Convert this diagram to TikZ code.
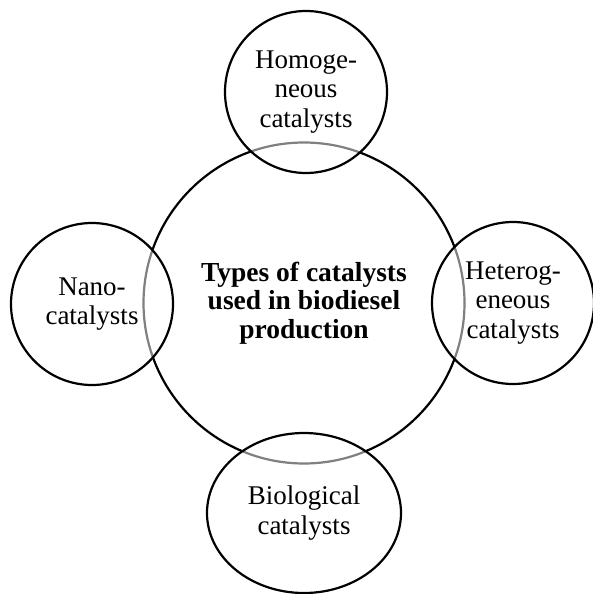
\documentclass[tikz,border=0pt]{standalone}
\usepackage{fontspec}
\setmainfont{Liberation Serif}
\usetikzlibrary{shapes.geometric}
\begin{document}
\begin{tikzpicture}[x=1pt,y=-1pt,
  hub/.style={circle,draw=black,line width=2.2pt,minimum size=321pt,inner sep=0pt},
  title/.style={align=center,font=\fontsize{27.5}{28.5}\selectfont\bfseries},
  satellite/.style={circle,draw=black,line width=2.2pt,fill=white,fill opacity=0.5,
    draw opacity=1,text opacity=1,minimum size=162pt,inner sep=0pt,
    align=center,font=\fontsize{27}{29.5}\selectfont},
  oval/.style={satellite,ellipse,minimum width=194pt,minimum height=160pt}]
  \useasboundingbox (0,0) rectangle (592,594);
  % central circle
  \node[hub] (hub) at (304,303) {};
  % surrounding catalyst groups, drawn over the central rim
  \node[satellite] (homo) at (306,92) {Homoge-\\neous\\catalysts};
  \node[satellite] (nano) at (92,304) {Nano-\\catalysts};
  \node[satellite] (hetero) at (513,303) {Heterog-\\eneous\\catalysts};
  \node[oval] (bio) at (304,513) {Biological\\catalysts};
  % central title
  \node[title] (caption) at (hub.center)
    {Types of catalysts\\used in biodiesel\\production};
\end{tikzpicture}
\end{document}
